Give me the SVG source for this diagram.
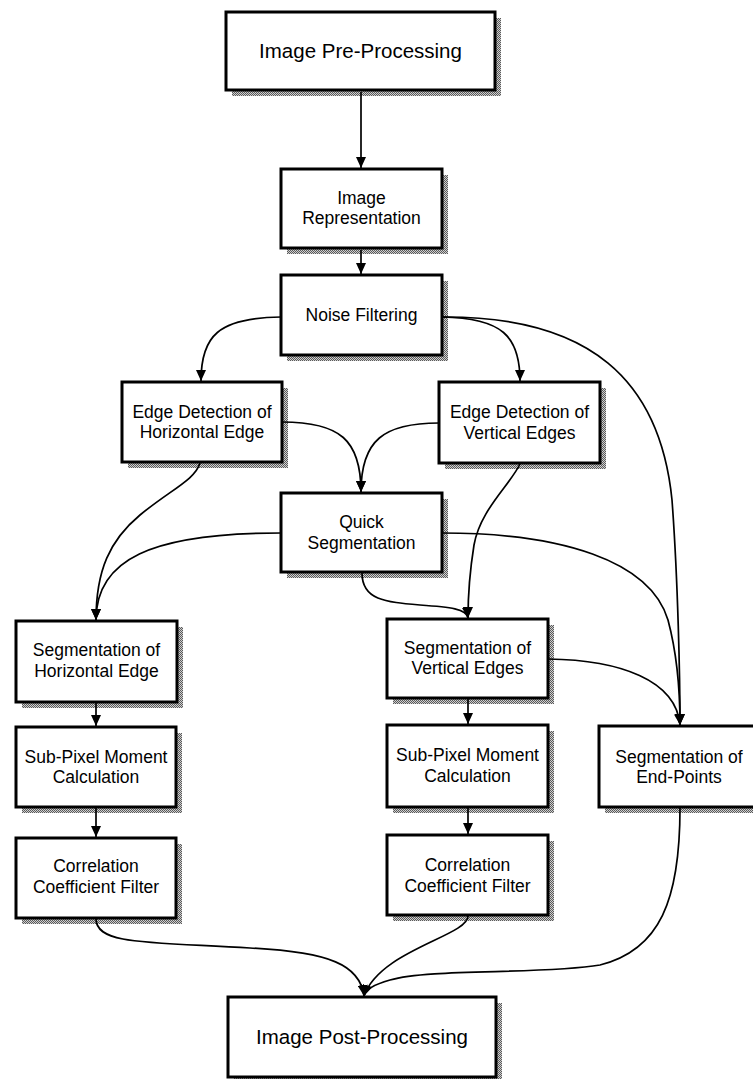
<svg xmlns="http://www.w3.org/2000/svg" width="753" height="1079" viewBox="0 0 753 1079">
<defs>
<pattern id="dots" width="2" height="2" patternUnits="userSpaceOnUse">
<rect width="2" height="2" fill="#cfcfcf"/>
<rect width="1" height="1" fill="#5a5a5a"/>
<rect x="1" y="1" width="1" height="1" fill="#5a5a5a"/>
</pattern>
<marker id="ah" markerUnits="userSpaceOnUse" markerWidth="11" markerHeight="10" refX="11" refY="5" orient="auto">
<path d="M0,0 L11,5 L0,10 z" fill="#000"/>
</marker>
<style>
.box{fill:#fff;stroke:#000;stroke-width:3}
.sh{fill:url(#dots)}
.t{font-family:"Liberation Sans",Arial,sans-serif;font-size:17.5px;text-anchor:middle;fill:#000}
.tb{font-size:20.5px}
.c{fill:none;stroke:#000;stroke-width:1.7;marker-end:url(#ah)}
</style>
</defs>
<rect width="753" height="1079" fill="#fff"/>

<g id="pre"><rect class="sh" x="232" y="18" width="269" height="78"/><rect class="box" x="226" y="12" width="269" height="78"/><text class="t tb" x="360.5" y="58">Image Pre-Processing</text></g>
<g id="rep"><rect class="sh" x="287" y="175" width="161" height="79"/><rect class="box" x="281" y="169" width="161" height="79"/><text class="t" x="361.5" y="204">Image</text><text class="t" x="361.5" y="224">Representation</text></g>
<g id="noise"><rect class="sh" x="287" y="281" width="161" height="80"/><rect class="box" x="281" y="275" width="161" height="80"/><text class="t" x="361.5" y="321">Noise Filtering</text></g>
<g id="edgeH"><rect class="sh" x="128" y="388" width="160" height="80"/><rect class="box" x="122" y="382" width="160" height="80"/><text class="t" x="202" y="418">Edge Detection of</text><text class="t" x="202" y="438">Horizontal Edge</text></g>
<g id="edgeV"><rect class="sh" x="445" y="388" width="161" height="81"/><rect class="box" x="439" y="382" width="161" height="81"/><text class="t" x="519.5" y="418">Edge Detection of</text><text class="t" x="519.5" y="439">Vertical Edges</text></g>
<g id="quick"><rect class="sh" x="287" y="499" width="161" height="79"/><rect class="box" x="281" y="493" width="161" height="79"/><text class="t" x="361.5" y="528">Quick</text><text class="t" x="361.5" y="549">Segmentation</text></g>
<g id="segH"><rect class="sh" x="22" y="627" width="161" height="81"/><rect class="box" x="16" y="621" width="161" height="81"/><text class="t" x="96.5" y="656">Segmentation of</text><text class="t" x="96.5" y="677">Horizontal Edge</text></g>
<g id="subH"><rect class="sh" x="22" y="733" width="160" height="80"/><rect class="box" x="16" y="727" width="160" height="80"/><text class="t" x="96" y="763">Sub-Pixel Moment</text><text class="t" x="96" y="783">Calculation</text></g>
<g id="corrH"><rect class="sh" x="22" y="844" width="160" height="80"/><rect class="box" x="16" y="838" width="160" height="80"/><text class="t" x="96" y="872">Correlation</text><text class="t" x="96" y="893">Coefficient Filter</text></g>
<g id="segV"><rect class="sh" x="393" y="625" width="161" height="79"/><rect class="box" x="387" y="619" width="161" height="79"/><text class="t" x="467.5" y="654">Segmentation of</text><text class="t" x="467.5" y="674">Vertical Edges</text></g>
<g id="subV"><rect class="sh" x="393" y="731" width="161" height="82"/><rect class="box" x="387" y="725" width="161" height="82"/><text class="t" x="467.5" y="761">Sub-Pixel Moment</text><text class="t" x="467.5" y="782">Calculation</text></g>
<g id="corrV"><rect class="sh" x="393" y="841" width="161" height="80"/><rect class="box" x="387" y="835" width="161" height="80"/><text class="t" x="467.5" y="871">Correlation</text><text class="t" x="467.5" y="892">Coefficient Filter</text></g>
<g id="endP"><rect class="sh" x="605" y="732" width="161" height="81"/><rect class="box" x="599" y="726" width="161" height="81"/><text class="t" x="679" y="763">Segmentation of</text><text class="t" x="679" y="783">End-Points</text></g>
<g id="post"><rect class="sh" x="234" y="1003" width="268" height="80"/><rect class="box" x="228" y="997" width="268" height="80"/><text class="t tb" x="362" y="1044">Image Post-Processing</text></g>

<g id="connectors">
<path class="c" d="M361,92 L361,168"/>
<path class="c" d="M361,250 L361,274"/>
<path class="c" d="M281,317 C218,318 201,336 201,381"/>
<path class="c" d="M442,317 C502,318 520,336 520,381"/>
<path class="c" d="M442,317 C590,316 660,380 672,500 C678,580 680,680 680,725"/>
<path class="c" d="M282,422 C340,422 361,440 361,492"/>
<path class="c" d="M439,423 C384,423 361,440 361,492"/>
<path class="c" d="M200,463 C195,480 170,490 140,515 C110,540 96,570 96,620"/>
<path class="c" d="M281,533 C150,533 96,560 96,620"/>
<path class="c" d="M520,464 C510,485 480,510 474,545 C470,570 468,590 468,618"/>
<path class="c" d="M442,533 C560,533 650,560 668,620 C676,650 680,690 680,725"/>
<path class="c" d="M362,573 C362,600 385,602 420,605 C450,607 467,609 468,618"/>
<path class="c" d="M548,659 C620,660 676,680 680,725"/>
<path class="c" d="M96,703 L96,726"/>
<path class="c" d="M96,808 L96,837"/>
<path class="c" d="M468,699 L468,724"/>
<path class="c" d="M468,808 L468,834"/>
<path class="c" d="M96,919 C96,945 150,942 250,948 C330,952 360,965 364,996"/>
<path class="c" d="M468,916 C468,936 380,950 364,996"/>
<path class="c" d="M680,808 C680,900 660,950 600,965 C540,975 430,968 390,980 C372,985 365,990 364,996"/>
</g>
</svg>
